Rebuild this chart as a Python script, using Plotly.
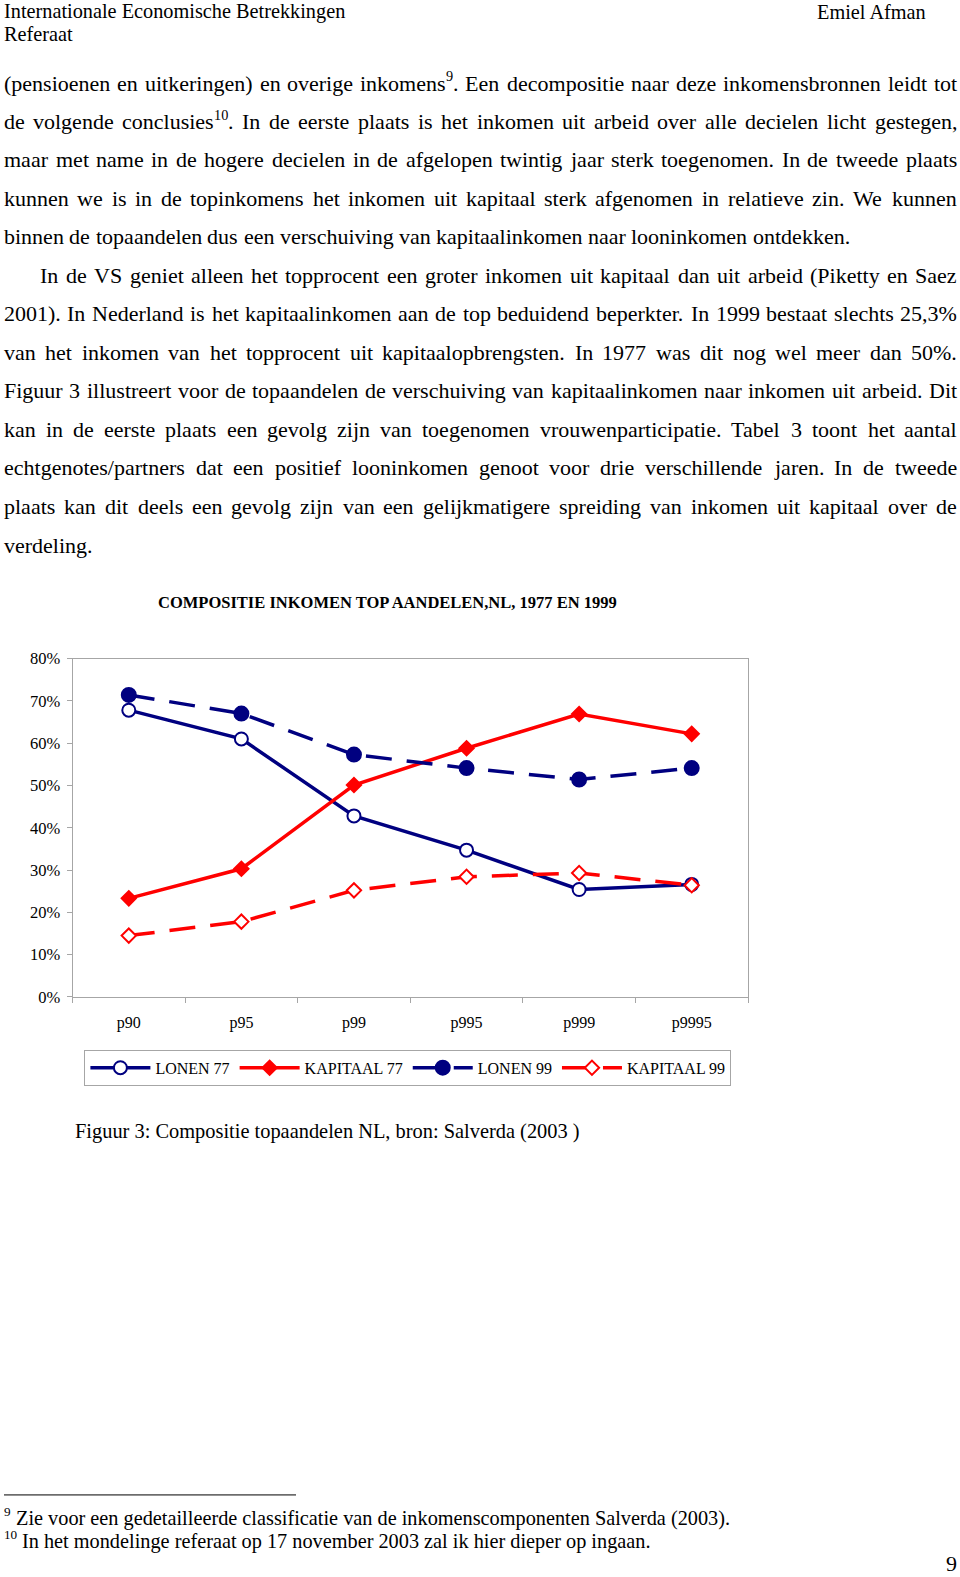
import plotly.graph_objects as go

# ---------------- data ----------------
categories = ["p90", "p95", "p99", "p995", "p999", "p9995"]
lonen_77 = [67.8, 61.0, 42.8, 34.7, 25.4, 26.6]
kapitaal_77 = [23.3, 30.3, 50.1, 58.8, 66.9, 62.2]
lonen_99 = [71.4, 67.0, 57.3, 54.1, 51.4, 54.1]
kapitaal_99 = [14.5, 17.8, 25.2, 28.4, 29.3, 26.4]
series_names = ["LONEN 77", "KAPITAAL 77", "LONEN 99", "KAPITAAL 99"]
y_ticks = [0, 10, 20, 30, 40, 50, 60, 70, 80]
y_tick_labels = ["0%", "10%", "20%", "30%", "40%", "50%", "60%", "70%", "80%"]

chart_title = "COMPOSITIE INKOMEN TOP AANDELEN,NL, 1977 EN 1999"
caption = "Figuur 3: Compositie topaandelen NL, bron: Salverda (2003 )"
header_left = ["Internationale Economische Betrekkingen", "Referaat"]
header_right = "Emiel Afman"

body_lines = [
    ("(pensioenen en uitkeringen) en overige inkomens<sup>9</sup>. Een decompositie naar deze inkomensbronnen leidt tot", True, 0),
    ("de volgende conclusies<sup>10</sup>. In de eerste plaats is het inkomen uit arbeid over alle decielen licht gestegen,", True, 0),
    ("maar met name in de hogere decielen in de afgelopen twintig jaar sterk toegenomen. In de tweede plaats", True, 0),
    ("kunnen we is in de topinkomens het inkomen uit kapitaal sterk afgenomen in relatieve zin. We kunnen", True, 0),
    ("binnen de topaandelen dus een verschuiving van kapitaalinkomen naar looninkomen ontdekken.", False, 0),
    ("In de VS geniet alleen het topprocent een groter inkomen uit kapitaal dan uit arbeid (Piketty en Saez", True, 36),
    ("2001). In Nederland is het kapitaalinkomen aan de top beduidend beperkter. In 1999 bestaat slechts 25,3%", True, 0),
    ("van het inkomen van het topprocent uit kapitaalopbrengsten. In 1977 was dit nog wel meer dan 50%.", True, 0),
    ("Figuur 3 illustreert voor de topaandelen de verschuiving van kapitaalinkomen naar inkomen uit arbeid. Dit", True, 0),
    ("kan in de eerste plaats een gevolg zijn van toegenomen vrouwenparticipatie. Tabel 3 toont het aantal", True, 0),
    ("echtgenotes/partners dat een positief looninkomen genoot voor drie verschillende jaren. In de tweede", True, 0),
    ("plaats kan dit deels een gevolg zijn van een gelijkmatigere spreiding van inkomen uit kapitaal over de", True, 0),
    ("verdeling.", False, 0),
]
footnote_marks = ["9", "10"]
footnotes = [
    "Zie voor een gedetailleerde classificatie van de inkomenscomponenten Salverda (2003).",
    "In het mondelinge referaat op 17 november 2003 zal ik hier dieper op ingaan.",
]
page_number = "9"

# ---------------- page geometry ----------------
W, H = 960, 1577
FONT = "Liberation Serif"
NAVY = "#000080"
RED = "#FF0000"
GRAY = "#A6A6A6"

# the captured page shows the figure slightly offset/compressed vertically;
# map wanted screen rows onto figure rows
Y_OFF, Y_SCALE = 7.14, 0.9899


def px(x):
    return x / W


def py(y):
    return 1 - ((y - Y_OFF) / Y_SCALE) / H


# Times / Liberation Serif advance widths (per 1000 em)
TW = {' ': 250, '(': 333, ')': 333, ',': 250, '.': 250, '/': 278, '%': 833, ':': 278, '-': 333,
      'A': 722, 'B': 667, 'C': 667, 'D': 722, 'E': 611, 'F': 556, 'G': 722, 'H': 722, 'I': 333,
      'J': 389, 'K': 722, 'L': 611, 'M': 889, 'N': 722, 'O': 722, 'P': 556, 'Q': 722, 'R': 667,
      'S': 556, 'T': 611, 'U': 722, 'V': 722, 'W': 944, 'X': 722, 'Y': 722, 'Z': 611,
      'a': 444, 'b': 500, 'c': 444, 'd': 500, 'e': 444, 'f': 333, 'g': 500, 'h': 500, 'i': 278,
      'j': 278, 'k': 500, 'l': 278, 'm': 778, 'n': 500, 'o': 500, 'p': 500, 'q': 500, 'r': 333,
      's': 389, 't': 278, 'u': 500, 'v': 500, 'w': 722, 'x': 500, 'y': 500, 'z': 444}
for d in "0123456789":
    TW[d] = 500

SUP_SCALE = 0.65


def plain_width(s, fs):
    return sum(TW.get(c, 500) for c in s) * fs / 1000.0


def split_sup(word):
    """returns (base, sup, rest)"""
    if "<sup>" not in word:
        return word, "", ""
    base, tail = word.split("<sup>", 1)
    sup, rest = tail.split("</sup>", 1)
    return base, sup, rest


def word_width(word, fs):
    base, sup, rest = split_sup(word)
    return plain_width(base, fs) + plain_width(sup, fs * SUP_SCALE) + plain_width(rest, fs)


annotations = []


def add_text(x, y, text, size, anchor="left", bold=False):
    annotations.append(dict(
        x=px(x), y=py(y), xref="paper", yref="paper", text=("<b>%s</b>" % text) if bold else text,
        showarrow=False, xanchor=anchor, yanchor="middle", borderpad=0, borderwidth=0,
        font=dict(family=FONT, size=size, color="black")))


def add_word(x, y, word, fs):
    base, sup, rest = split_sup(word)
    if not sup:
        add_text(x, y, word, fs)
        return
    add_text(x, y, base, fs)
    xs = x + plain_width(base, fs)
    add_text(xs, y - fs * 0.32, sup, fs * SUP_SCALE)
    if rest:
        add_text(xs + plain_width(sup, fs * SUP_SCALE), y, rest, fs)


# header
add_text(4, 10, header_left[0], 20.3)
add_text(4, 32, header_left[1], 20.3)
add_text(926, 10, header_right, 20.3, anchor="right")

# body text (justified)
BODY_FS = 22.0
LEFT, RIGHT = 4, 957
line_y = [81.5, 119.9, 158.3, 196.9, 235.4, 274.0, 312.6, 351.2, 389.8, 428.4, 467.0, 505.6, 544.2]
for (line, justify, indent), yy in zip(body_lines, line_y):
    x0 = LEFT + indent
    words = line.split(" ")
    widths = [word_width(w, BODY_FS) for w in words]
    if justify:
        gap = (RIGHT - x0 - sum(widths)) / (len(words) - 1)
    else:
        gap = plain_width(" ", BODY_FS)
    xx = x0
    for w, wd in zip(words, widths):
        add_word(xx, yy, w, BODY_FS)
        xx += wd + gap

# chart title and caption
add_text(387.5, 602, chart_title, 16.5, anchor="center", bold=True)
add_text(75.4, 1131.5, caption, 20.4)

# footnotes
FN_FS = 20.3
for mark, txt, yy, xt in zip(footnote_marks, footnotes, [1519.5, 1542.6], [16, 21.5]):
    add_text(4, yy - 6.5, mark, FN_FS * SUP_SCALE)
    add_text(xt, yy, txt, FN_FS)
add_text(957, 1565, page_number, 22, anchor="right")

# ---------------- traces ----------------
fig = go.Figure()
styles = [
    (lonen_77, NAVY, "solid", "circle", "white", 13),
    (kapitaal_77, RED, "solid", "diamond", RED, 11),
    (lonen_99, NAVY, "26px,15px", "circle", NAVY, 14),
    (kapitaal_99, RED, "26px,15px", "diamond", "white", 11),
]
for name, (vals, col, dash, sym, fill, size) in zip(series_names, styles):
    fig.add_trace(go.Scatter(
        x=categories, y=vals, name=name, mode="lines+markers",
        line=dict(color=col, width=3.5, dash=dash),
        marker=dict(symbol=sym, size=size, color=fill, line=dict(color=col, width=2)),
    ))

fig.update_layout(
    width=W, height=H, margin=dict(l=0, r=0, t=0, b=0),
    paper_bgcolor="white", plot_bgcolor="white",
    annotations=annotations,
    showlegend=True,
    legend=dict(orientation="h", x=px(84.4), xanchor="left", y=py(1050), yanchor="top",
                bordercolor=GRAY, borderwidth=1, font=dict(family=FONT, size=16, color="black"),
                itemwidth=60, bgcolor="white", tracegroupgap=0),
    shapes=[dict(type="line", xref="paper", yref="paper", x0=px(4), x1=px(296),
                 y0=py(1496), y1=py(1496), line=dict(color="black", width=1))],
    hovermode=False,
)
fig.update_xaxes(
    domain=[px(72.5), px(748)], type="category", range=[-0.5, 5.5],
    showline=True, linecolor=GRAY, linewidth=1, mirror=True,
    ticks="outside", ticklen=5, tickcolor=GRAY, tickson="boundaries",
    showgrid=False, zeroline=False, ticklabelstandoff=11,
    tickfont=dict(family=FONT, size=16, color="black"),
)
fig.update_yaxes(
    domain=[py(997), py(658)], range=[0, 80], tickmode="array",
    tickvals=y_ticks, ticktext=y_tick_labels,
    showline=True, linecolor=GRAY, linewidth=1, mirror=True,
    ticks="outside", ticklen=5, tickcolor=GRAY,
    showgrid=False, zeroline=False, ticklabelstandoff=3,
    tickfont=dict(family=FONT, size=16.5, color="black"),
)

css_js = ("var s=document.createElement('style');"
          "s.textContent='html,body{margin:0 !important;padding:0 !important;overflow:hidden !important;}';"
          "document.head.appendChild(s);")
fig.write_html("out.html", config={"displayModeBar": False, "responsive": False},
               post_script=css_js)
